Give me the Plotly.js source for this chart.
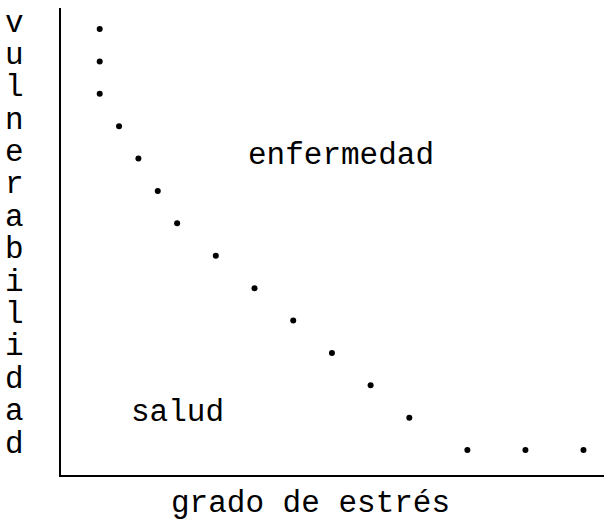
<!DOCTYPE html>
<html>
<head>
<meta charset="utf-8">
<script src="https://cdn.plot.ly/plotly-3.0.1.min.js"></script>
<style>html,body{margin:0;padding:0;background:#fff;}#chart{width:604px;height:521px;}</style>
</head>
<body>
<div id="chart"></div>
<script>
// Data (arbitrary units)
const estres = [2, 2, 2, 3, 4, 5, 6, 8, 10, 12, 14, 16, 18, 21, 24, 27];
const vulnerabilidad = [14, 13, 12, 11, 10, 9, 8, 7, 6, 5, 4, 3, 2, 1, 1, 1];
const yTitle = "vulnerabilidad";
const xTitle = "grado de estrés";
const regionLabels = ["enfermedad", "salud"];

const FONT = "Liberation Mono, Courier New, monospace";
const fs = 31;

const trace = {
  x: estres, y: vulnerabilidad, type: "scatter", mode: "markers",
  marker: {color: "#000", size: 6}, hoverinfo: "skip", showlegend: false
};

const letters = yTitle.split("");
const annotations = letters.map((ch, i) => ({
  text: ch, xref: "paper", yref: "y", x: -0.085, y: 14 - i, yshift: 6,
  showarrow: false, xanchor: "center", yanchor: "middle",
  font: {family: FONT, size: fs, color: "#000"}
}));
annotations.push({
  text: regionLabels[0], xref: "x", yref: "y", x: 14.47, y: 10.1,
  showarrow: false, xanchor: "center", yanchor: "middle",
  font: {family: FONT, size: fs, color: "#000"}
});
annotations.push({
  text: regionLabels[1], xref: "x", yref: "y", x: 6.0, y: 2.17,
  showarrow: false, xanchor: "center", yanchor: "middle",
  font: {family: FONT, size: fs, color: "#000"}
});
annotations.push({
  text: xTitle, xref: "paper", yref: "paper", x: 0.46, y: -0.06,
  showarrow: false, xanchor: "center", yanchor: "middle",
  font: {family: FONT, size: fs, color: "#000"}
});

const layout = {
  width: 604, height: 521,
  margin: {l: 61, r: 0, t: 8, b: 46},
  paper_bgcolor: "#fff", plot_bgcolor: "#fff",
  xaxis: {range: [0, 28.06], showgrid: false, zeroline: false, showticklabels: false,
          ticks: "", showline: true, linecolor: "#000", linewidth: 2},
  yaxis: {range: [0.23, 14.65], showgrid: false, zeroline: false, showticklabels: false,
          ticks: "", showline: true, linecolor: "#000", linewidth: 2},
  annotations: annotations
};

Plotly.newPlot("chart", [trace], layout, {displayModeBar: false, staticPlot: true});
</script>
</body>
</html>
